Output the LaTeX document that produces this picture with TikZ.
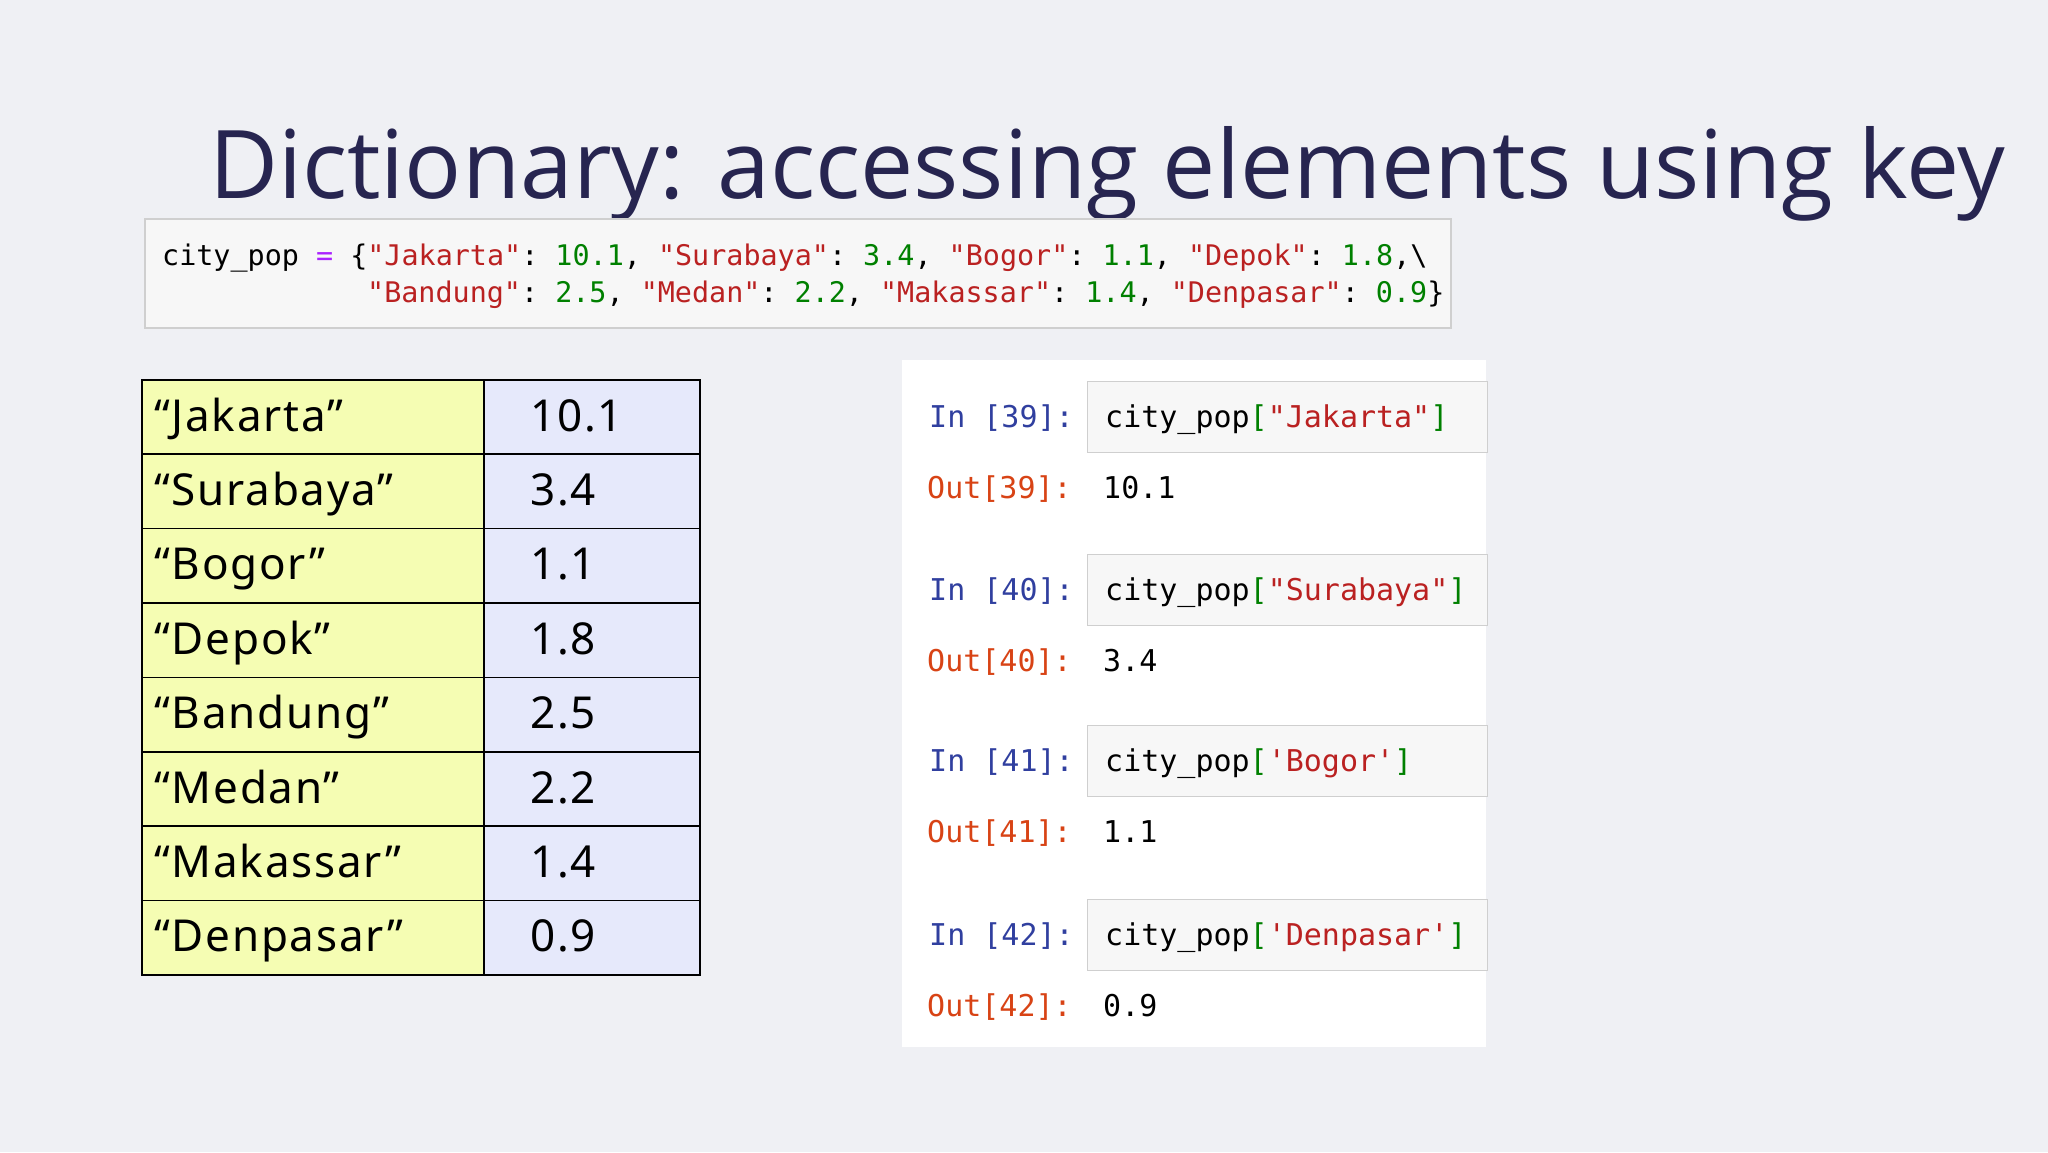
\documentclass[tikz,border=0pt]{standalone}
\usepackage{fontspec}
\setmainfont{Open Sans}
\setmonofont{DejaVu Sans Mono}
\newfontfamily\cellfont[LetterSpace=4]{Noto Sans}
\definecolor{bg}{HTML}{EFF0F4}
\definecolor{ttl}{HTML}{272550}
\definecolor{str}{HTML}{BA2121}
\definecolor{num}{HTML}{008000}
\definecolor{opc}{HTML}{AA22FF}
\definecolor{kfill}{HTML}{F5FDB3}
\definecolor{vfill}{HTML}{E6E9FB}
\definecolor{inc}{HTML}{303F9F}
\definecolor{outc}{HTML}{D84315}
\begin{document}
\begin{tikzpicture}[x=1pt,y=-1pt,
  keycell/.style={draw=black,line width=1.5pt,fill=kfill,minimum width=342pt,minimum height=74.4pt,anchor=north west,inner sep=0pt},
  valcell/.style={draw=black,line width=1.5pt,fill=vfill,minimum width=216pt,minimum height=74.4pt,anchor=north west,inner sep=0pt},
  celltxt/.style={anchor=base west,font=\cellfont\fontsize{44}{50}\selectfont,inner sep=0pt},
  codetxt/.style={anchor=base west,font=\ttfamily\fontsize{28.4}{32}\selectfont,inner sep=0pt},
  intxt/.style={anchor=base west,font=\ttfamily\fontsize{30}{34}\selectfont,inner sep=0pt},
  inbox/.style={draw={rgb,255:red,207;green,207;blue,207},line width=1.2pt,fill={rgb,255:red,247;green,247;blue,247},minimum width=400pt,minimum height=71pt,anchor=north west,inner sep=0pt}]
\fill[bg] (0,0) rectangle (2048,1152);
\useasboundingbox (0,0) rectangle (2048,1152);
\node[anchor=base west,inner sep=0pt,text=ttl] (title) at (209,198) {\resizebox{1796pt}{!}{\fontsize{100}{110}\selectfont Dictionary: accessing elements using key}};
% code box
\node[draw={rgb,255:red,207;green,207;blue,207},line width=1.5pt,fill={rgb,255:red,247;green,247;blue,247},minimum width=1306pt,minimum height=109pt,anchor=north west,inner sep=0pt] (code) at (144,218) {};
\node[codetxt] (l1) at (162,265) {city\_pop \textcolor{opc}{=} \{\textcolor{str}{"Jakarta"}: \textcolor{num}{10.1}, \textcolor{str}{"Surabaya"}: \textcolor{num}{3.4}, \textcolor{str}{"Bogor"}: \textcolor{num}{1.1}, \textcolor{str}{"Depok"}: \textcolor{num}{1.8},\textbackslash};
\node[codetxt] (l2) at (367,302) {\textcolor{str}{"Bandung"}: \textcolor{num}{2.5}, \textcolor{str}{"Medan"}: \textcolor{num}{2.2}, \textcolor{str}{"Makassar"}: \textcolor{num}{1.4}, \textcolor{str}{"Denpasar"}: \textcolor{num}{0.9}\}};
% table
\foreach \k/\v [count=\i from 0] in {Jakarta/10.1,Surabaya/3.4,Bogor/1.1,Depok/1.8,Bandung/2.5,Medan/2.2,Makassar/1.4,Denpasar/0.9}{
  \node[keycell] (k\i) at (141,379+74.4*\i) {};
  \node[valcell] (v\i) at (483,379+74.4*\i) {};
  \node[celltxt] (kt\i) at (154,431+74.4*\i) {“\k”};
  \node[celltxt] (vt\i) at (530,431+74.4*\i) {\v};
}
% notebook panel
\node[fill=white,minimum width=584pt,minimum height=687pt,anchor=north west,inner sep=0pt] (panel) at (902,360) {};
\foreach \n/\q/\o [count=\i from 0] in {39/"Jakarta"/10.1,40/"Surabaya"/3.4,41/'Bogor'/1.1,42/'Denpasar'/0.9}{
  \pgfmathsetmacro{\top}{{381,554,725,899}[\i]}
  \node[inbox] (ib\i) at (1087,\top) {};
  \node[intxt,text=inc] (ip\i) at (929,\top+46) {In [\n]:};
  \node[intxt] (ic\i) at (1105,\top+46) {city\_pop\textcolor{num}{[}\textcolor{str}{\q}\textcolor{num}{]}};
  \node[intxt,text=outc] (op\i) at (927,\top+117) {Out[\n]:};
  \node[intxt] (oc\i) at (1103,\top+117) {\o};
}
\end{tikzpicture}
\end{document}
